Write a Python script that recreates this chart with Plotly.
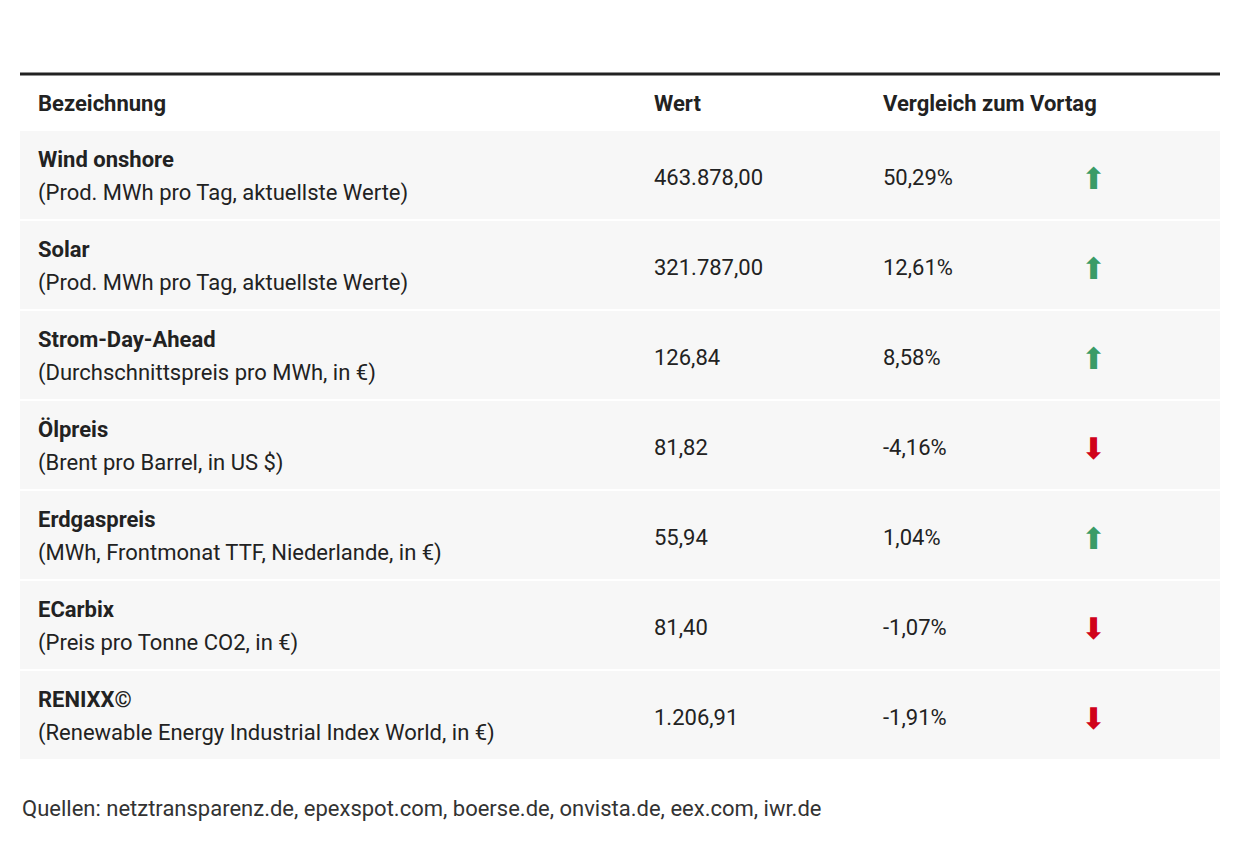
import plotly.graph_objects as go

names = ["Wind onshore", "Solar", "Strom-Day-Ahead", "Ölpreis", "Erdgaspreis", "ECarbix", "RENIXX©"]
subs = ["(Prod. MWh pro Tag, aktuellste Werte)", "(Prod. MWh pro Tag, aktuellste Werte)",
        "(Durchschnittspreis pro MWh, in €)", "(Brent pro Barrel, in US $)",
        "(MWh, Frontmonat TTF, Niederlande, in €)", "(Preis pro Tonne CO2, in €)",
        "(Renewable Energy Industrial Index World, in €)"]
values = ["463.878,00", "321.787,00", "126,84", "81,82", "55,94", "81,40", "1.206,91"]
changes = [50.29, 12.61, 8.58, -4.16, 1.04, -1.07, -1.91]
headers = ["Bezeichnung", "Wert", "Vergleich zum Vortag"]
source = "Quellen: netztransparenz.de, epexspot.com, boerse.de, onvista.de, eex.com, iwr.de"

W, H = 1240, 848
OFF = 8
FONT = "Roboto"
def py(y): return 1 - (y - OFF) / H
def px(x): return (x - OFF) / W

fig = go.Figure()
shapes, ann = [], []
def A(x, y, text, size=22, color="#222", family=FONT, xanchor="left"):
    ann.append(dict(xref="paper", yref="paper", x=px(x), y=py(y), text=text, xanchor=xanchor,
                    yanchor="middle", showarrow=False, font=dict(size=size, color=color, family=family)))

shapes.append(dict(type="line", xref="paper", yref="paper", x0=px(20), x1=px(1220), y0=py(74), y1=py(74),
                   line=dict(color="#222", width=3)))
for x, h in zip([36, 652, 881], headers):
    A(x, 103, f"<b>{h}</b>")
for i, (n, s, v, c) in enumerate(zip(names, subs, values, changes)):
    top = 131 + 90 * i
    shapes.append(dict(type="rect", xref="paper", yref="paper", x0=px(20), x1=px(1220),
                       y0=py(top), y1=py(top + 88), fillcolor="#f7f7f7", line=dict(width=0), layer="below"))
    A(36, top + 28, f"<b>{n}</b>")
    A(36, top + 62, s)
    A(652, top + 46, v)
    A(881, top + 46, f"{c:.2f}".replace(".", ",") + "%")
    up = c >= 0
    A(1093, top + 47, "⬆" if up else "⬇", size=30, color="#3a9b68" if up else "#d0021b",
      family="DejaVu Sans", xanchor="center")
A(20, 808, source, color="#333")

fig.update_layout(width=W, height=H, margin=dict(l=0, r=0, t=0, b=0), plot_bgcolor="white",
                  paper_bgcolor="white", shapes=shapes, annotations=ann,
                  xaxis=dict(visible=False), yaxis=dict(visible=False))
fig.write_html("out.html")
